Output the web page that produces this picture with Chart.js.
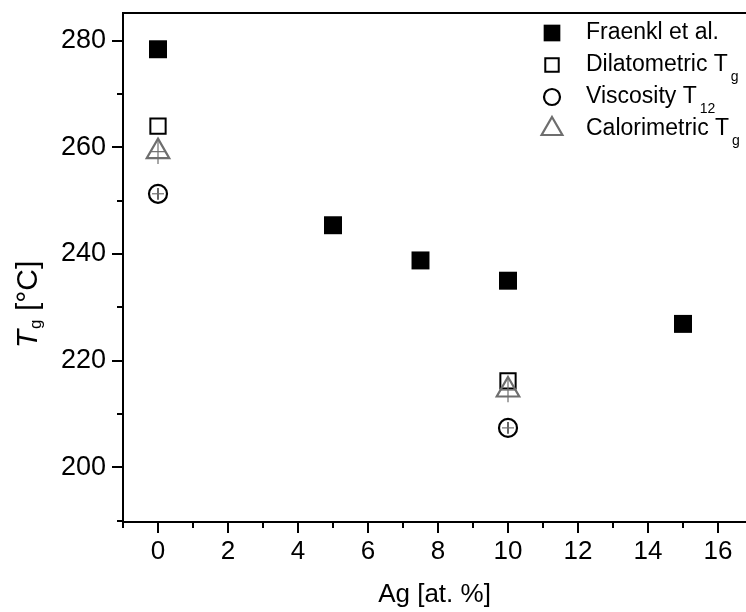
<!DOCTYPE html>
<html><head><meta charset="utf-8">
<script src="https://cdn.jsdelivr.net/npm/chart.js@4/dist/chart.umd.min.js"></script>
<style>html,body{margin:0;padding:0;background:#fff;}#wrap{width:746px;height:612px;position:relative;}</style>
</head><body><div id="wrap"><canvas id="c" width="746" height="612"></canvas></div>
<script>
// ---- data ----
const agFraenkl = [0, 5, 7.5, 10, 15];
const tgFraenkl = [278.4, 245.4, 238.8, 235.0, 226.9];
const agDilat = [0, 10];
const tgDilat = [264.0, 216.2];
const agVisc = [0, 10];
const tgVisc = [251.3, 207.4];
const errVisc = [1.1, 1.1];
const agCalor = [0, 10];
const tgCalor = [259.2, 214.5];
const errCalor = [2.3, 2.3];
const legendNames = ['Fraenkl et al.', 'Dilatometric T', 'Viscosity T', 'Calorimetric T'];
const legendSubs = ['', 'g', '12', 'g'];
const xTickLabels = [0, 2, 4, 6, 8, 10, 12, 14, 16];
const yTickLabels = [200, 220, 240, 260, 280];
const xTitle = 'Ag [at. %]';
const yTitleMain = 'T', yTitleSub = 'g', yTitleRest = ' [°C]';

const pts = (xs, ys) => xs.map((x, i) => ({x: x, y: ys[i]}));
const FONT = '"Liberation Sans", Arial, sans-serif';
const GRAY = '#6e6e6e';

const datasets = [
  {label: legendNames[0], data: pts(agFraenkl, tgFraenkl), pointStyle: 'rect', pointRadius: 12.7,
   pointBackgroundColor: '#000', pointBorderColor: '#000', pointBorderWidth: 0, order: 0,
   legR: 11.8},
  {label: legendNames[1], data: pts(agDilat, tgDilat), pointStyle: 'rect', pointRadius: 10.8,
   pointBackgroundColor: 'rgba(0,0,0,0)', pointBorderColor: '#000', pointBorderWidth: 2, order: 3,
   legR: 9.5},
  {label: legendNames[2], data: pts(agVisc, tgVisc), pointStyle: 'circle', pointRadius: 9,
   pointBackgroundColor: 'rgba(0,0,0,0)', pointBorderColor: '#000', pointBorderWidth: 2.2, order: 2,
   err: errVisc, errColor: '#000', crossColor: GRAY, crossHalf: 6, legR: 8},
  {label: legendNames[3], data: pts(agCalor, tgCalor), pointStyle: 'triangle', pointRadius: 13,
   pointBackgroundColor: 'rgba(0,0,0,0)', pointBorderColor: GRAY, pointBorderWidth: 2.2, order: 1,
   err: errCalor, errColor: GRAY, crossColor: GRAY, crossHalf: 8, legR: 12}
];

const decor = {
  id: 'decor',
  afterDatasetsDraw(chart) {
    const ctx = chart.ctx, y = chart.scales.y;
    ctx.save();
    chart.data.datasets.forEach((ds, di) => {
      if (!ds.err) return;
      const meta = chart.getDatasetMeta(di);
      meta.data.forEach((el, i) => {
        const v = ds.data[i].y;
        const top = y.getPixelForValue(v + ds.err[i]);
        const bot = y.getPixelForValue(v - ds.err[i]);
        ctx.lineWidth = 1.2;
        ctx.strokeStyle = ds.errColor;
        ctx.beginPath(); ctx.moveTo(el.x, top); ctx.lineTo(el.x, bot); ctx.stroke();
        ctx.strokeStyle = ds.crossColor;
        ctx.beginPath(); ctx.moveTo(el.x - ds.crossHalf, el.y); ctx.lineTo(el.x + ds.crossHalf, el.y); ctx.stroke();
      });
    });
    ctx.restore();
  },
  afterDraw(chart) {
    const ctx = chart.ctx, a = chart.chartArea, xs = chart.scales.x, ys = chart.scales.y;
    ctx.save();
    ctx.strokeStyle = '#000'; ctx.lineWidth = 2; ctx.lineCap = 'butt';
    // top frame line
    ctx.beginPath(); ctx.moveTo(a.left - 1, a.top); ctx.lineTo(chart.width, a.top); ctx.stroke();
    // ticks
    xs.ticks.forEach(t => {
      const v = t.value; if (!Number.isInteger(v) || v < xs.min || v > xs.max) return;
      const px = Math.round(xs.getPixelForValue(v));
      const len = xTickLabels.includes(v) ? 11 : 6;
      ctx.beginPath(); ctx.moveTo(px, a.bottom); ctx.lineTo(px, a.bottom + len); ctx.stroke();
    });
    ys.ticks.forEach(t => {
      const v = t.value; if (!Number.isInteger(v) || v < ys.min || v > ys.max) return;
      const py = Math.round(ys.getPixelForValue(v));
      const len = yTickLabels.includes(v) ? 11 : 6;
      ctx.beginPath(); ctx.moveTo(a.left, py); ctx.lineTo(a.left - len, py); ctx.stroke();
    });
    // y title (rotated, italic T with subscript g)
    ctx.fillStyle = '#000';
    ctx.textBaseline = 'middle';
    const fMain = 'italic 30px ' + FONT, fSub = '17px ' + FONT, fRest = '30px ' + FONT;
    ctx.font = fMain; const w1 = ctx.measureText(yTitleMain).width;
    ctx.font = fSub; const w2 = ctx.measureText(yTitleSub).width;
    ctx.font = fRest; const w3 = ctx.measureText(yTitleRest).width;
    const tot = w1 + w2 + w3;
    ctx.translate(29, 305); ctx.rotate(-Math.PI / 2);
    let cx = -tot / 2;
    ctx.textAlign = 'left';
    ctx.font = fMain; ctx.fillText(yTitleMain, cx, 0); cx += w1 + 1;
    ctx.font = fSub; ctx.fillText(yTitleSub, cx, 7); cx += w2;
    ctx.font = fRest; ctx.fillText(yTitleRest, cx, 0);
    ctx.setTransform(1, 0, 0, 1, 0, 0);
    // legend
    const rows = [33, 65, 97, 129];
    chart.data.datasets.forEach((ds, i) => {
      const ry = rows[i];
      ctx.fillStyle = ds.pointBackgroundColor; ctx.strokeStyle = ds.pointBorderColor;
      ctx.lineWidth = ds.pointBorderWidth;
      Chart.helpers.drawPoint(ctx, {pointStyle: ds.pointStyle, radius: ds.legR, borderWidth: ds.pointBorderWidth, rotation: 0}, 552, ry);
      ctx.fillStyle = '#000';
      ctx.textAlign = 'left'; ctx.textBaseline = 'middle';
      ctx.font = '23px ' + FONT;
      ctx.fillText(legendNames[i], 586, ry);
      if (legendSubs[i]) {
        const w = ctx.measureText(legendNames[i]).width;
        ctx.font = '14px ' + FONT;
        ctx.fillText(legendSubs[i], 586 + w + 3, ry + 12);
      }
    });
    ctx.restore();
  }
};

new Chart(document.getElementById('c'), {
  type: 'scatter',
  data: {datasets: datasets},
  options: {
    responsive: false, animation: false, events: [],
    layout: {autoPadding: false, padding: {top: 13, left: 0, right: 0, bottom: 0}},
    plugins: {legend: {display: false}, tooltip: {enabled: false}},
    scales: {
      x: {
        type: 'linear', min: -1, max: 16.8,
        border: {display: true, color: '#000', width: 2},
        grid: {display: true, drawOnChartArea: false, drawTicks: true, tickLength: 11, tickColor: 'rgba(0,0,0,0)'},
        ticks: {stepSize: 1, autoSkip: false, includeBounds: false, maxRotation: 0, padding: 3,
          color: '#000', font: {family: FONT, size: 26},
          callback: v => xTickLabels.includes(v) ? String(v) : ''},
        title: {display: true, text: xTitle, color: '#000', font: {family: FONT, size: 26}, padding: {top: 0, bottom: 2}},
        afterFit: s => { s.height = 90; s.paddingLeft = 0; s.paddingRight = 0; }
      },
      y: {
        type: 'linear', min: 189.75, max: 285.2,
        border: {display: true, color: '#000', width: 2},
        grid: {display: true, drawOnChartArea: false, drawTicks: true, tickLength: 11, tickColor: 'rgba(0,0,0,0)'},
        ticks: {stepSize: 10, autoSkip: false, includeBounds: false, padding: 6,
          color: '#000', font: {family: FONT, size: 27},
          callback: v => yTickLabels.includes(v) ? String(v) : ''},
        afterFit: s => { s.width = 123; s.paddingTop = 0; s.paddingBottom = 0; }
      }
    }
  },
  plugins: [decor]
});
</script></body></html>
